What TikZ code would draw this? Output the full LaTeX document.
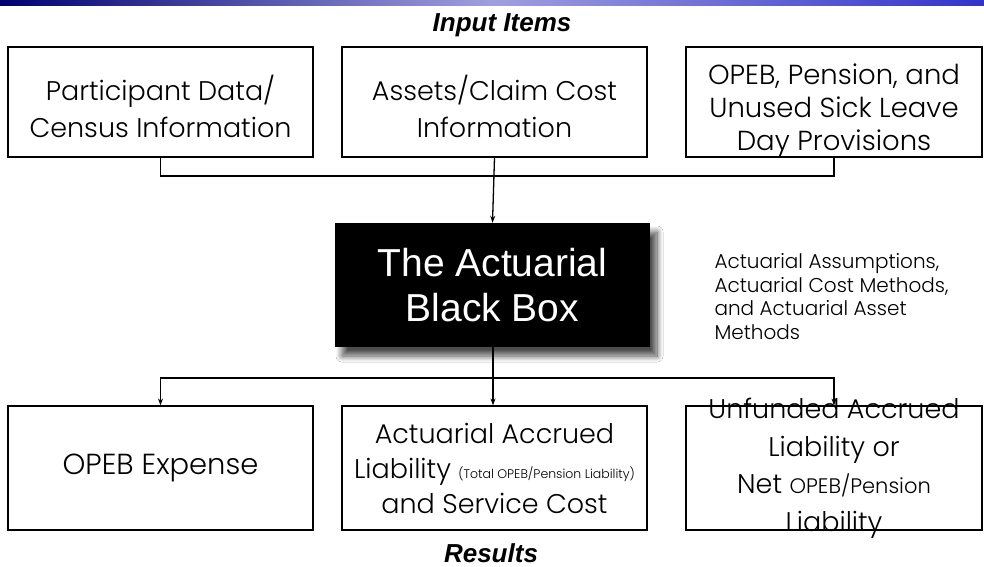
\documentclass[tikz,border=0pt]{standalone}
\usepackage{fontspec}
\setmainfont{Poppins}[UprightFont={* Light}]
\newfontfamily\arialfont{Liberation Sans}
\usetikzlibrary{arrows.meta,shadows,shadows.blur,positioning,calc}
\tikzstyle{inbox} = [rectangle, draw=black, line width=1.2pt, inner sep=0pt,
minimum width=305pt, minimum height=110pt]
\tikzstyle{outbox} = [inbox, minimum height=124pt]
\tikzstyle{boxtext} = [align=center, inner sep=0pt, font=\fontsize{27}{37}\selectfont]
\tikzstyle{heading} = [font=\arialfont\bfseries\itshape\fontsize{26}{30}\selectfont]
\tikzstyle{link} = [line width=1.3pt, draw=black]
\tikzset{>={Stealth[length=7pt,width=5pt]}}

\begin{document}
\begin{tikzpicture}[x=1pt,y=-1pt]
            \useasboundingbox (0,0) rectangle (984,566);
            \fill[white] (0,0) rectangle (984,566);
            % header strip of the slide
            \shade[left color=blue!45!black, right color=blue!60!gray, middle color=gray!50!blue!50]
                (0,0) rectangle (984,5);
            \node[heading] (inputs) at (502,25) {Input Items};
            % input boxes
            \node[inbox] (census) at (160.5,102) {};
            \node[boxtext] (censustext) at ([yshift=-4pt]census.center) {Participant Data/\\Census Information};
            \node[inbox] (assets) at (494.5,102) {};
            \node[boxtext] (assetstext) at ([yshift=-4pt]assets.center) {Assets/Claim Cost\\Information};
            \node[inbox, minimum width=296pt] (provisions) at (834,102) {};
            \node[boxtext, font=\fontsize{27.5}{33}\selectfont] (provisionstext) at ([yshift=-9pt]provisions.center)
                {OPEB, Pension, and\\Unused Sick Leave\\Day Provisions};
            % the black box
            \node[rectangle, fill=black, minimum width=315pt, minimum height=124pt, inner sep=0pt,
                blur shadow={shadow xshift=7pt, shadow yshift=-9pt, shadow blur steps=14,
                    shadow blur radius=6pt, shadow opacity=70},
                text=white, align=center, font=\arialfont\fontsize{39}{45}\selectfont]
                (blackbox) at (492.5,285) {The Actuarial\\Black Box};
            \node[anchor=north west, align=left, font=\fontsize{20}{23.5}\selectfont] (methods) at (711,250)
                {Actuarial Assumptions,\\Actuarial Cost Methods,\\and Actuarial Asset\\Methods};
            % result boxes
            \node[outbox] (expense) at (160.5,468) {};
            \node[boxtext, font=\fontsize{29}{35}\selectfont] (expensetext) at (expense.center) {OPEB Expense};
            \node[outbox] (accrued) at (494.5,468) {};
            \node[boxtext, font=\fontsize{27}{35}\selectfont] (accruedtext) at (accrued.center)
                {Actuarial Accrued\\Liability {\fontsize{12.5}{13}\selectfont(Total OPEB/Pension Liability)}\\and Service Cost};
            \node[outbox, minimum width=296pt] (unfunded) at (834,468) {};
            \node[boxtext, font=\fontsize{27}{37.5}\selectfont] (unfundedtext) at (unfunded.center)
                {Unfunded Accrued\\Liability or\\Net {\fontsize{21}{22}\selectfont OPEB/Pension}\\Liability};
            \node[heading] (results) at (491,553) {Results};
            % collecting the inputs
            \coordinate (topbus) at (494.5,176);
            \draw[link] (census.south) |- (topbus) -| (provisions.south);
            \draw[link,->] (assets.south) -- (blackbox.north);
            % spreading the results
            \coordinate (botbus) at (493,378);
            \draw[link,->] (blackbox.south -| botbus) -- (accrued.north -| botbus);
            \draw[link,->] (botbus) -| (expense.north);
            \draw[link,->] (botbus) -| (unfunded.north);
        \end{tikzpicture}
\end{document}
